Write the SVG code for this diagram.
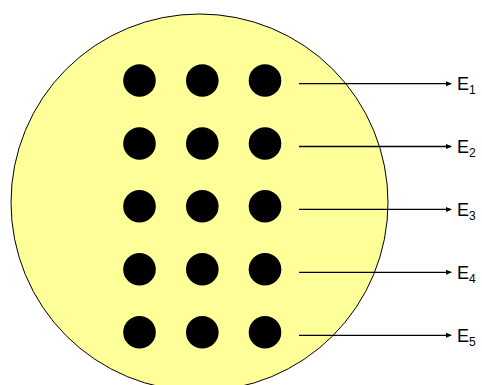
<svg xmlns="http://www.w3.org/2000/svg" width="482" height="385" viewBox="0 0 482 385">
<style>
.dot{fill:#000}
.ln{stroke:#000;stroke-width:1.3;fill:none;marker-end:url(#ah)}
.lb{font-family:"Liberation Sans",Arial,sans-serif;font-size:18px;fill:#000}
.sb{font-size:12px}
</style>
<defs>
<marker id="ah" markerWidth="6" markerHeight="6" refX="5" refY="3" orient="auto" markerUnits="userSpaceOnUse">
<path d="M0,0.5 L6,3 L0,5.5 Z" fill="#000"/>
</marker>
</defs>
<rect width="482" height="385" fill="#fff"/>
<g id="disc"><circle cx="199.5" cy="202.5" r="188.5" fill="#ffff99" stroke="#000" stroke-width="1"/></g>
<g id="dots">
<circle class="dot" cx="139.5" cy="80.5" r="16.3"/><circle class="dot" cx="202.3" cy="80.5" r="16.3"/><circle class="dot" cx="265" cy="80.5" r="16.3"/>
<circle class="dot" cx="139.5" cy="143.5" r="16.3"/><circle class="dot" cx="202.3" cy="143.5" r="16.3"/><circle class="dot" cx="265" cy="143.5" r="16.3"/>
<circle class="dot" cx="139.5" cy="206.3" r="16.3"/><circle class="dot" cx="202.3" cy="206.3" r="16.3"/><circle class="dot" cx="265" cy="206.3" r="16.3"/>
<circle class="dot" cx="139.5" cy="269.3" r="16.3"/><circle class="dot" cx="202.3" cy="269.3" r="16.3"/><circle class="dot" cx="265" cy="269.3" r="16.3"/>
<circle class="dot" cx="139.5" cy="332.3" r="16.3"/><circle class="dot" cx="202.3" cy="332.3" r="16.3"/><circle class="dot" cx="265" cy="332.3" r="16.3"/>
</g>
<g id="connectors">
<line class="ln" x1="299" y1="83.7" x2="451" y2="83.7"/>
<line class="ln" x1="299" y1="146.5" x2="451" y2="146.5"/>
<line class="ln" x1="299" y1="209.4" x2="451" y2="209.4"/>
<line class="ln" x1="299" y1="272.3" x2="451" y2="272.3"/>
<line class="ln" x1="299" y1="335.3" x2="451" y2="335.3"/>
</g>
<g id="labels">
<text class="lb" x="457" y="90">E<tspan class="sb" dy="4">1</tspan></text>
<text class="lb" x="457" y="153">E<tspan class="sb" dy="4">2</tspan></text>
<text class="lb" x="457" y="216">E<tspan class="sb" dy="4">3</tspan></text>
<text class="lb" x="457" y="279">E<tspan class="sb" dy="4">4</tspan></text>
<text class="lb" x="457" y="342">E<tspan class="sb" dy="4">5</tspan></text>
</g>
</svg>
